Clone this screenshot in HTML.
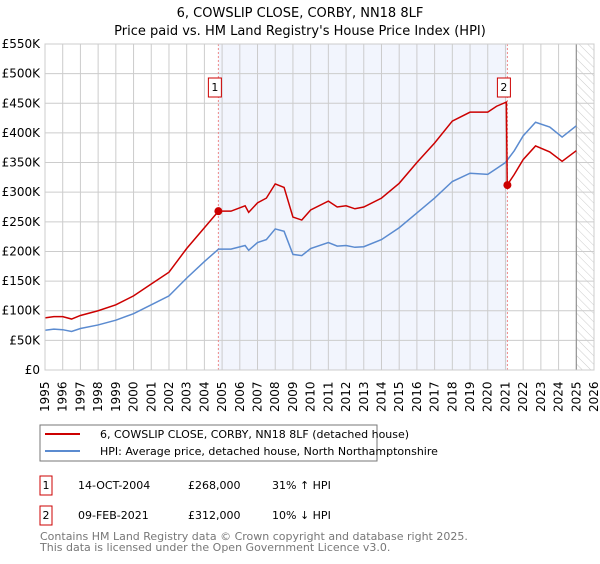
<!DOCTYPE html>
<html><head><meta charset="utf-8"><style>
body{margin:0;background:#fff;font-family:"DejaVu Sans","Liberation Sans",sans-serif;}
</style></head><body>
<svg width="600" height="560" xmlns="http://www.w3.org/2000/svg" font-family="DejaVu Sans, Liberation Sans, sans-serif">
<defs><pattern id="hatch" width="6" height="6" patternUnits="userSpaceOnUse" patternTransform="rotate(-45)"><line x1="0" y1="0" x2="0" y2="6" stroke="#ccc" stroke-width="1"/></pattern></defs>
<text x="300" y="17" text-anchor="middle" font-size="13">6, COWSLIP CLOSE, CORBY, NN18 8LF</text>
<text x="300" y="35" text-anchor="middle" font-size="13">Price paid vs. HM Land Registry's House Price Index (HPI)</text>
<g id="plot"></g>
<rect x="40" y="425" width="337" height="36" fill="#fff" stroke="#777"/>
<line x1="45" y1="434" x2="80" y2="434" stroke="#cc0000" stroke-width="2"/>
<text x="100" y="438" font-size="11">6, COWSLIP CLOSE, CORBY, NN18 8LF (detached house)</text>
<line x1="45" y1="451" x2="80" y2="451" stroke="#5b8bd0" stroke-width="2"/>
<text x="100" y="455" font-size="11">HPI: Average price, detached house, North Northamptonshire</text>
<g font-size="11">
<rect x="40" y="476" width="12" height="19" fill="#fff" stroke="#cc0000"/>
<text x="46" y="489" text-anchor="middle">1</text>
<text x="78" y="489">14-OCT-2004</text><text x="188" y="489">£268,000</text><text x="272" y="489">31% ↑ HPI</text>
<rect x="40" y="506" width="12" height="19" fill="#fff" stroke="#cc0000"/>
<text x="46" y="519" text-anchor="middle">2</text>
<text x="78" y="519">09-FEB-2021</text><text x="188" y="519">£312,000</text><text x="272" y="519">10% ↓ HPI</text>
</g>
<text x="40" y="540" font-size="11" fill="#777">Contains HM Land Registry data © Crown copyright and database right 2025.</text>
<text x="40" y="551" font-size="11" fill="#777">This data is licensed under the Open Government Licence v3.0.</text>
</svg>
<script>
const hpiYears=[1995,1995.5,1996,1996.5,1997,1998,1999,2000,2001,2002,2003,2004,2004.8,2005.5,2006.3,2006.5,2007,2007.5,2008,2008.5,2009,2009.5,2010,2011,2011.5,2012,2012.5,2013,2014,2015,2016,2017,2018,2019,2020,2020.5,2021,2021.5,2022,2022.7,2023.5,2024.2,2025];
const hpiValues=[67,69,68,65,70,76,84,95,110,125,155,183,204,204,210,202,215,220,238,234,195,193,205,215,209,210,207,208,220,240,265,290,318,332,330,340,350,370,395,418,410,393,412];
const propYears=[1995,1995.5,1996,1996.5,1997,1998,1999,2000,2001,2002,2003,2004,2004.8,2005.5,2006.3,2006.5,2007,2007.5,2008,2008.5,2009,2009.5,2010,2011,2011.5,2012,2012.5,2013,2014,2015,2016,2017,2018,2019,2020,2020.5,2021.05,2021.1,2021.5,2022,2022.7,2023.5,2024.2,2025];
const propValues=[88,90,90,86,92,100,110,125,145,165,205,240,268,268,277,266,282,290,314,308,258,253,270,285,275,277,272,275,290,315,350,383,420,435,435,445,452,312,330,355,378,368,352,370];
const yTicks=[0,50,100,150,200,250,300,350,400,450,500,550];
const yTickLabels=["£0","£50K","£100K","£150K","£200K","£250K","£300K","£350K","£400K","£450K","£500K","£550K"];
const xTicks=[1995,1996,1997,1998,1999,2000,2001,2002,2003,2004,2005,2006,2007,2008,2009,2010,2011,2012,2013,2014,2015,2016,2017,2018,2019,2020,2021,2022,2023,2024,2025,2026];
const saleYears=[2004.79,2021.11];
const saleValues=[268,312];
const saleLabels=["1","2"];
const X0=45,X1=594,Y0=370,Y1=44;
const sx=y=>X0+(y-1995)/(2026-1995)*(X1-X0);
const sy=v=>Y0-v/550*(Y0-Y1);
const NS="http://www.w3.org/2000/svg";
const g=document.getElementById('plot');
function mk(t,a){const e=document.createElementNS(NS,t);for(const k in a)e.setAttribute(k,a[k]);g.appendChild(e);return e;}
let e;
e=mk('rect',{x:sx(saleYears[0]),y:Y1,width:sx(saleYears[1])-sx(saleYears[0]),height:Y0-Y1,fill:'#f2f5fd'});


e=mk('rect',{x:sx(2025),y:Y1,width:X1-sx(2025),height:Y0-Y1,fill:'url(#hatch)'});


xTicks.forEach(t=>{
 e=mk('line',{x1:sx(t),x2:sx(t),y1:Y1,y2:Y0,stroke:'#ccc','stroke-width':1});
 
 
 e=mk('text',{x:0,y:0,transform:`translate(${sx(t)+4},${Y0+42}) rotate(-90)`,'font-size':12});
 e.textContent=t;
 
 
});
yTicks.forEach((t,i)=>{
 e=mk('line',{x1:X0,x2:X1,y1:sy(t),y2:sy(t),stroke:'#ccc','stroke-width':1});
 
 
 e=mk('text',{x:40,y:sy(t)+4,'text-anchor':'end','font-size':12});
 e.textContent=yTickLabels[i];
 
 
});
e=mk('line',{x1:sx(2025),x2:sx(2025),y1:Y1,y2:Y0,stroke:'#888','stroke-width':1});


saleYears.forEach((s,i)=>{
 e=mk('line',{x1:sx(s),x2:sx(s),y1:Y1,y2:Y0,stroke:'#e88','stroke-width':1,'stroke-dasharray':'2,2'});
 
 
});
e=mk('polyline',{points:hpiYears.map((y,i)=>sx(y)+','+sy(hpiValues[i])).join(' '),fill:'none',stroke:'#5b8bd0','stroke-width':1.5});


e=mk('polyline',{points:propYears.map((y,i)=>sx(y)+','+sy(propValues[i])).join(' '),fill:'none',stroke:'#cc0000','stroke-width':1.5});


saleYears.forEach((s,i)=>{
 e=mk('circle',{cx:sx(s),cy:sy(saleValues[i]),r:4,fill:'#cc0000'});
 
 
 e=mk('rect',{x:sx(s)-10,y:78,width:13,height:19,fill:'#fff',stroke:'#cc0000'});
 
 
 e=mk('text',{x:sx(s)-3.5,y:91,'text-anchor':'middle','font-size':11});
 e.textContent=saleLabels[i];
 
 
});
e=mk('rect',{x:X0,y:Y1,width:X1-X0,height:Y0-Y1,fill:'none',stroke:'#ccc'});


</script>
</body></html>
